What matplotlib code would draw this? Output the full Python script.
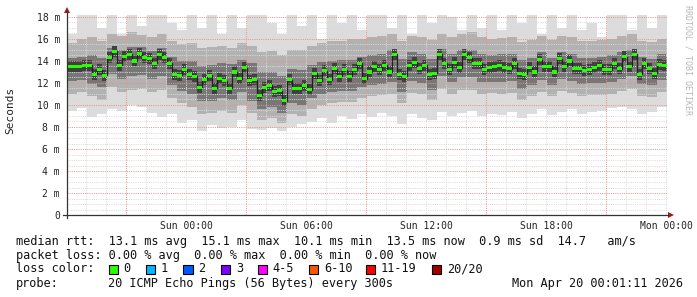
import numpy as np
import matplotlib
matplotlib.use("Agg")
import matplotlib.pyplot as plt
from matplotlib.patches import Rectangle, Polygon

# ---------------- data (ms) ----------------
# time axis: hours relative to Sun 00:00
t_start = -5.95
t_end = 24.05
med_step = 0.25     # 15 min per median sample
band_step = 0.5     # 30 min per smoke sample

median_ms = [
    13.5, 13.5, 13.5, 13.6, 13.6, 12.8, 13.2, 12.7, 14.3, 14.9,
    13.6, 14.4, 14.6, 14.0, 14.7, 14.3, 14.2, 13.8, 14.6, 14.3,
    13.8, 12.8, 12.7, 13.2, 12.8, 12.6, 11.6, 12.3, 12.7, 11.5,
    12.4, 12.2, 11.5, 13.0, 12.4, 13.4, 12.2, 12.3, 10.9, 11.6,
    11.8, 11.2, 11.3, 10.4, 12.3, 11.5, 11.5, 11.8, 11.4, 12.9,
    12.2, 13.1, 12.3, 13.3, 12.6, 13.2, 12.6, 13.2, 13.8, 12.4,
    13.0, 13.5, 13.2, 13.6, 13.0, 14.6, 12.8, 12.6, 13.6, 13.9,
    13.3, 13.6, 12.8, 12.9, 14.6, 13.8, 13.2, 13.9, 13.4, 14.6,
    14.3, 13.8, 13.8, 13.2, 13.4, 13.5, 13.6, 13.4, 13.3, 13.8,
    12.9, 12.8, 13.4, 13.0, 14.1, 13.5, 13.5, 13.0, 14.2, 13.5,
    14.0, 13.3, 13.3, 13.1, 13.2, 13.4, 13.6, 13.2, 13.2, 13.8,
    13.3, 14.4, 13.5, 14.6, 12.8, 13.8, 13.3, 12.9, 13.7, 13.6,
]

smoke_max = [
    16.5, 18.3, 18.3, 17.0, 18.3, 16.5, 18.3, 17.2, 18.3, 18.3,
    17.5, 16.8, 18.3, 17.0, 18.3, 16.5, 18.3, 17.0, 18.3, 18.3,
    17.5, 16.5, 18.3, 17.2, 18.3, 16.0, 18.3, 17.5, 18.3, 16.8,
    18.3, 18.3, 17.0, 18.3, 16.5, 18.3, 17.5, 18.3, 18.0, 16.8,
    18.3, 17.0, 18.3, 16.8, 18.3, 17.5, 18.3, 16.5, 18.3, 17.0,
    18.3, 16.8, 17.5, 16.2, 18.3, 18.3, 16.8, 18.3, 17.0, 18.3,
]
smoke_hi2 = [
    15.6, 16.0, 16.2, 15.8, 16.5, 16.3, 16.6, 16.4, 16.2, 16.5,
    15.8, 15.5, 15.6, 15.2, 15.3, 15.4, 15.2, 15.6, 15.4, 14.8,
    14.9, 14.5, 15.0, 15.0, 15.4, 15.6, 15.8, 15.8, 16.0, 16.0,
    16.2, 16.3, 16.5, 15.8, 16.3, 16.2, 15.9, 16.5, 16.2, 16.5,
    16.6, 16.2, 16.0, 16.1, 16.2, 15.7, 15.9, 16.3, 15.9, 16.3,
    16.2, 15.8, 15.8, 15.9, 16.0, 16.3, 16.5, 15.8, 15.7, 16.0,
]
smoke_hi1 = [
    14.3, 14.4, 14.5, 14.3, 15.2, 15.0, 15.3, 15.3, 14.9, 15.2,
    14.4, 14.0, 14.0, 13.5, 13.6, 13.8, 13.7, 14.1, 13.8, 13.0,
    13.0, 12.6, 13.3, 13.2, 13.6, 13.9, 14.0, 14.1, 14.1, 14.4,
    14.5, 14.6, 15.0, 14.2, 14.8, 14.6, 14.2, 15.1, 14.6, 15.0,
    15.0, 14.6, 14.5, 14.6, 14.6, 14.1, 14.3, 14.8, 14.3, 14.8,
    14.6, 14.3, 14.3, 14.4, 14.5, 14.8, 15.0, 14.4, 14.2, 14.6,
]
smoke_lo1 = [
    12.2, 12.3, 11.9, 11.6, 12.8, 12.4, 12.6, 12.7, 12.4, 12.6,
    11.8, 11.3, 11.0, 10.4, 10.4, 10.6, 10.5, 11.2, 10.4, 9.6,
    9.8, 9.3, 10.2, 10.0, 10.6, 11.0, 11.2, 11.3, 11.3, 11.6,
    11.8, 11.9, 12.1, 11.2, 12.2, 12.0, 11.4, 12.6, 12.1, 12.5,
    12.5, 12.1, 12.1, 12.1, 12.2, 11.5, 11.8, 12.3, 11.8, 12.4,
    12.2, 11.9, 12.0, 12.0, 12.1, 12.4, 12.6, 11.9, 11.8, 12.3,
]
smoke_lo2 = [
    11.0, 11.2, 10.8, 10.5, 11.6, 11.2, 11.4, 11.5, 11.2, 11.4,
    10.6, 10.2, 9.8, 9.2, 9.3, 9.5, 9.3, 10.0, 9.3, 8.6,
    8.8, 8.4, 9.2, 9.0, 9.6, 10.0, 10.2, 10.3, 10.3, 10.6,
    10.8, 10.9, 11.0, 10.2, 11.1, 11.0, 10.5, 11.5, 11.0, 11.4,
    11.4, 11.0, 11.1, 11.0, 11.1, 10.5, 10.8, 11.2, 10.8, 11.3,
    11.1, 10.8, 10.9, 10.9, 11.0, 11.3, 11.5, 10.8, 10.7, 11.2,
]
smoke_min = [
    9.5, 9.7, 8.9, 9.2, 9.6, 9.5, 10.0, 9.8, 9.3, 8.9,
    9.2, 8.4, 8.6, 7.6, 8.2, 7.9, 8.0, 8.6, 7.8, 7.7,
    7.9, 7.6, 8.0, 8.3, 8.5, 8.8, 8.4, 9.0, 8.7, 9.2,
    8.9, 9.3, 9.0, 8.3, 9.2, 8.8, 8.6, 9.4, 9.0, 9.3,
    9.5, 9.0, 9.2, 9.1, 9.4, 8.8, 9.2, 9.6, 9.1, 9.4,
    9.6, 9.2, 9.4, 9.5, 9.7, 9.8, 9.6, 9.2, 9.4, 9.8,
]

y_ticks = [0, 2, 4, 6, 8, 10, 12, 14, 16, 18]
y_tick_labels = ["0", "2 m", "4 m", "6 m", "8 m", "10 m", "12 m", "14 m", "16 m", "18 m"]
x_ticks = [0, 6, 12, 18, 24]
x_tick_labels = ["Sun 00:00", "Sun 06:00", "Sun 12:00", "Sun 18:00", "Mon 00:00"]
major_vgrid = [-3, 3, 9, 15, 21]

legend_row1 = "median rtt:  13.1 ms avg  15.1 ms max  10.1 ms min  13.5 ms now  0.9 ms sd  14.7   am/s"
legend_row2 = "packet loss: 0.00 % avg  0.00 % max  0.00 % min  0.00 % now"
loss_labels = ["0", "1", "2", "3", "4-5", "6-10", "11-19", "20/20"]
loss_colors = ["#26ff00", "#00b8ff", "#0059ff", "#7e00ff", "#ff00ff", "#ff5500", "#ff0000", "#a10000"]
probe_text = "20 ICMP Echo Pings (56 Bytes) every 300s"
date_text = "Mon Apr 20 00:01:11 2026"

# ---------------- figure ----------------
W, H = 697, 297
fig = plt.figure(figsize=(W / 100, H / 100), dpi=100)
fig.patch.set_facecolor("white")
ax = fig.add_axes([67 / W, 82 / H, 600 / W, 200 / H])
ax.set_facecolor("white")
ymax = 200 / 11.0
ax.set_xlim(t_start, t_end)
ax.set_ylim(0, ymax)
for s in ax.spines.values():
    s.set_visible(False)

mono = "DejaVu Sans Mono"

def band(lo, hi, color, z):
    lo = np.asarray(lo, float)
    hi = np.asarray(hi, float)
    x = t_start + band_step * np.arange(len(lo) + 1)
    ax.fill_between(x, np.r_[lo, lo[-1]], np.r_[hi, hi[-1]], step="post",
                    color=color, linewidth=0, zorder=z)

band(smoke_min, smoke_max, "#dcdcdc", 1)
band(smoke_lo2, smoke_hi2, "#b2b2b2", 1.1)
band(smoke_lo1, smoke_hi1, "#777777", 1.2)

med = np.asarray(median_ms, float)
tm = t_start + med_step * np.arange(len(med) + 1)
core = 0.5
ax.fill_between(tm, np.r_[med, med[-1]] - core, np.r_[med, med[-1]] + core,
                step="post", color="#404040", linewidth=0, zorder=1.3)

# grid: thin dotted lines
px = 0.72
def hline(y, col, z):
    ax.axhline(y, color=col, lw=px, dashes=(1, 1.2), zorder=z, antialiased=True)
def vline(x, col, z):
    ax.axvline(x, color=col, lw=px, dashes=(1, 1.2), zorder=z, antialiased=True)

for y in np.arange(0.5, ymax, 0.5):
    if abs(y - round(y / 2) * 2) < 1e-6:
        continue
    hline(y, "#dadada", 2)
for h in range(-5, 25):
    if h in major_vgrid:
        continue
    vline(h, "#dadada", 2)
for y in y_ticks[1:]:
    hline(y, "#eb9090", 2.1)
for h in major_vgrid:
    vline(h, "#eb9090", 2.1)

# median line + loss-colored band
ax.step(tm, np.r_[med, med[-1]], where="post", color="#202020", lw=0.9, zorder=3)
sw = 0.14
ax.bar(tm[:-1], 2 * sw, bottom=med - sw, width=med_step, align="edge",
       color=loss_colors[0], linewidth=0, zorder=4)

# ticks
ax.set_yticks(y_ticks)
ax.set_yticklabels(y_tick_labels, fontfamily=mono, fontsize=7, color="#222222")
ax.set_xticks(x_ticks)
ax.set_xticklabels(x_tick_labels, fontfamily=mono, fontsize=7, color="#222222")
ax.tick_params(axis="both", length=0)
ax.tick_params(axis="y", pad=5)
ax.tick_params(axis="x", pad=4)

# axes lines with arrows (figure pixel coords)
def fx(x):
    return x / W

def fy(y):
    return 1 - y / H

axis_col = "#333333"
arrow_col = "#9b1c1c"
fig.add_artist(plt.Line2D([fx(63), fx(668)], [fy(215), fy(215)], color=axis_col, lw=0.9))
fig.add_artist(plt.Line2D([fx(67), fx(67)], [fy(218), fy(12)], color=axis_col, lw=0.9))
fig.add_artist(Polygon([[fx(668), fy(212)], [fx(674), fy(215)], [fx(668), fy(218)]],
                       closed=True, transform=fig.transFigure, color=arrow_col, lw=0))
fig.add_artist(Polygon([[fx(64), fy(13)], [fx(67), fy(7)], [fx(70), fy(13)]],
                       closed=True, transform=fig.transFigure, color=arrow_col, lw=0))

# y label & watermark
fig.text(fx(10), fy(110), "Seconds", rotation=90, ha="center", va="center",
         fontfamily=mono, fontsize=8, color="#222222")
fig.text(fx(688), fy(5), "RRDTOOL / TOBI OETIKER", rotation=270, ha="center", va="top",
         fontfamily=mono, fontsize=6, color="#b8b8b8")

# legend
lfs = 8.6
tc = "#111111"
fig.text(fx(16), fy(241), legend_row1, ha="left", va="center", fontfamily=mono, fontsize=lfs, color=tc)
fig.text(fx(16), fy(255), legend_row2, ha="left", va="center", fontfamily=mono, fontsize=lfs, color=tc)
fig.text(fx(16), fy(269), "loss color:", ha="left", va="center", fontfamily=mono, fontsize=lfs, color=tc)
box_x = [108.5, 146, 183.5, 221, 257.5, 309, 366, 432]
for bx, lab, c in zip(box_x, loss_labels, loss_colors):
    fig.add_artist(Rectangle((fx(bx), fy(273.5)), 9 / W, 9 / H, transform=fig.transFigure,
                             facecolor=c, edgecolor="#000000", lw=0.8))
    fig.text(fx(bx + 15), fy(269), lab, ha="left", va="center", fontfamily=mono,
             fontsize=lfs, color=tc)
fig.text(fx(16), fy(283), "probe:", ha="left", va="center", fontfamily=mono, fontsize=lfs, color=tc)
fig.text(fx(108), fy(283), probe_text, ha="left", va="center", fontfamily=mono, fontsize=lfs, color=tc)
fig.text(fx(683), fy(283), date_text, ha="right", va="center", fontfamily=mono, fontsize=lfs, color=tc)

fig.savefig("out.png", dpi=100, facecolor="white")
